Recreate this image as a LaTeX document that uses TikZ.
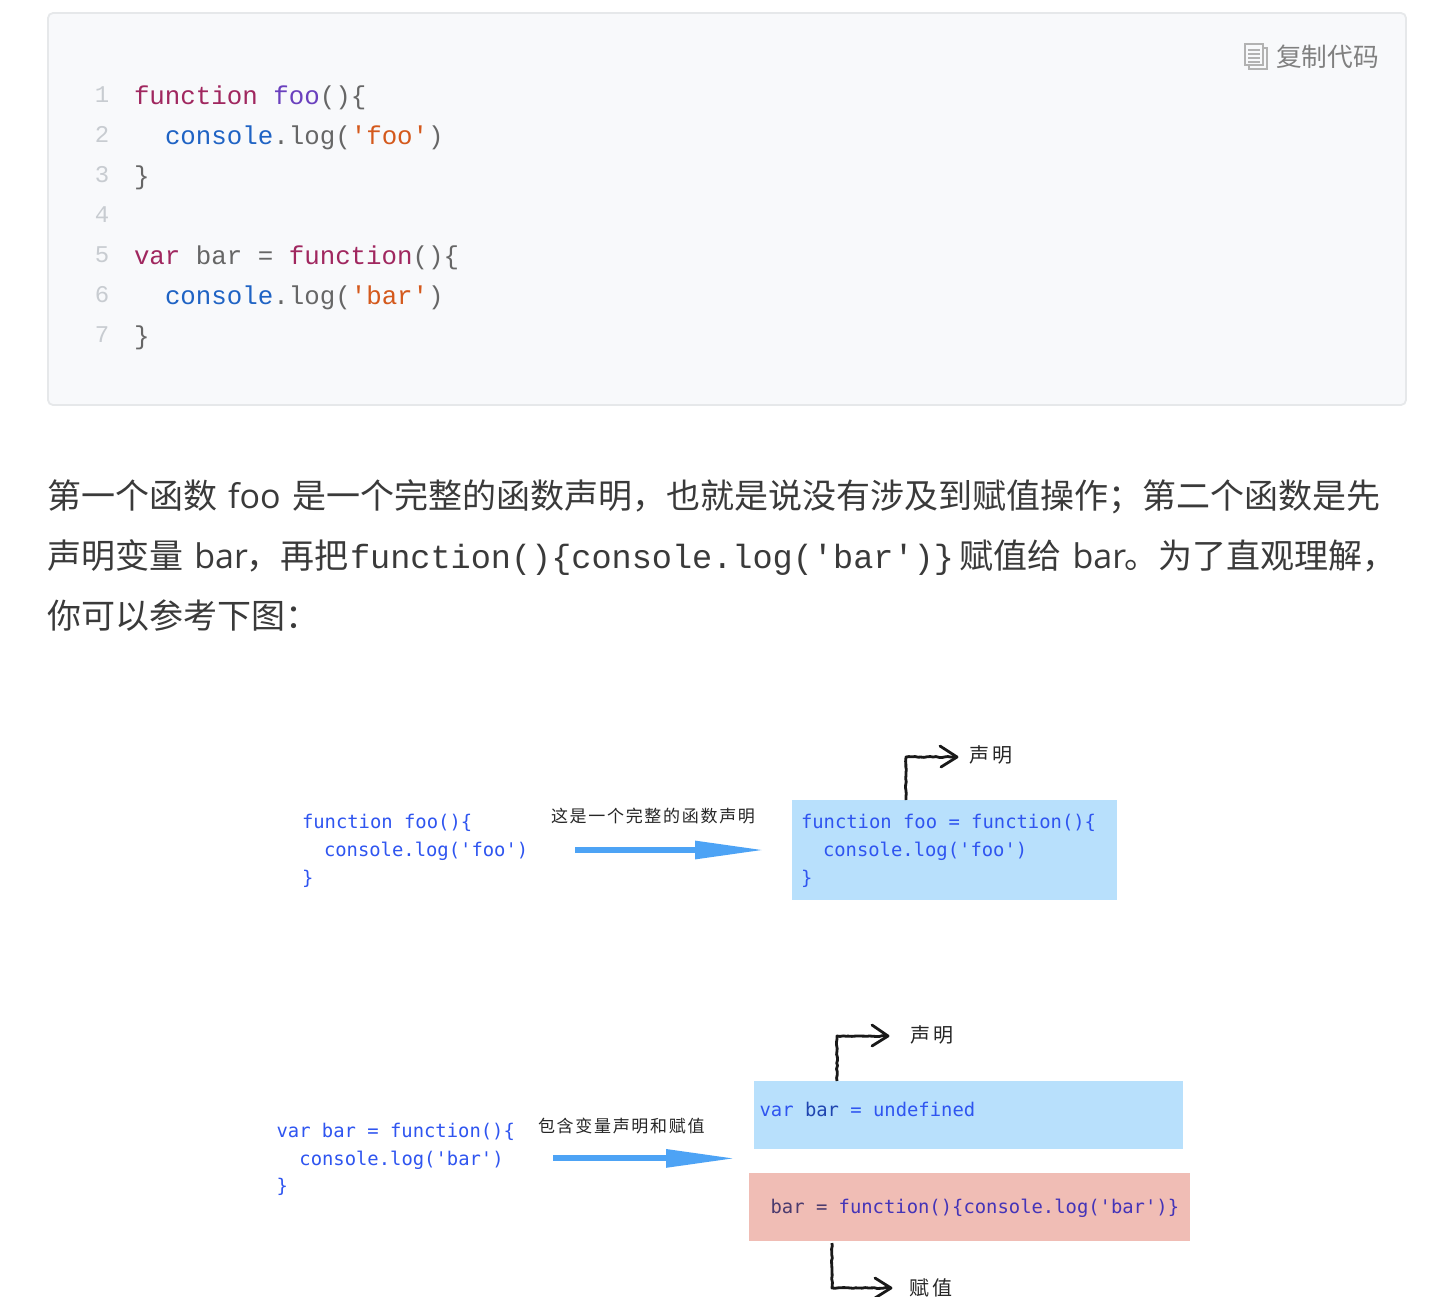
\documentclass[tikz,border=0pt]{standalone}
\usepackage{fontspec}
\usetikzlibrary{arrows.meta,decorations.pathmorphing}
\setmainfont{Open Sans}
\newfontfamily\cjkf{Noto Sans CJK SC}
\newfontfamily\handf[LetterSpace=10]{Noto Sans CJK SC}
\newfontfamily\handw[LetterSpace=15]{Noto Sans CJK SC}
\newfontfamily\topmono{Liberation Mono}
\newfontfamily\dgmono{DejaVu Sans Mono}
\definecolor{kw}{HTML}{A0275F}
\definecolor{fnname}{HTML}{6A40BE}
\definecolor{cons}{HTML}{1F63C4}
\definecolor{strc}{HTML}{D4591C}
\definecolor{punc}{HTML}{666666}
\definecolor{lnum}{HTML}{C8CCD1}
\definecolor{bodyc}{HTML}{3A3A3A}
\definecolor{dgblue}{HTML}{2F55F0}
\definecolor{dgdark}{HTML}{1F45B0}
\definecolor{pinkdark}{HTML}{4A3A6E}
\definecolor{pinktext}{HTML}{4434B8}
\definecolor{boxblue}{HTML}{B8E0FC}
\definecolor{boxpink}{HTML}{F0BDB5}
\definecolor{arrowblue}{HTML}{4DA3F5}
\definecolor{panel}{HTML}{F8F9FB}
\definecolor{panelline}{HTML}{E6E8EA}
\newcommand\tc[2]{\textcolor{#1}{#2}}
\tikzset{
  x=1pt,y=-1pt,
  txt/.style={inner sep=0pt,outer sep=0pt,anchor=base west},
  cjk/.style={txt,text=bodyc,font={\cjkf\fontsize{34}{34}\selectfont}},
  lat/.style={txt,text=bodyc,font={\fontsize{34}{34}\selectfont}},
  inl/.style={txt,text=bodyc,font={\topmono\fontsize{33.55}{33.55}\selectfont}},
  code/.style={txt,text=punc,font={\topmono\fontsize{25.8}{25.8}\selectfont}},
  num/.style={inner sep=0pt,anchor=base,text=lnum,font={\topmono\fontsize{24}{24}\selectfont}},
  dg/.style={txt,text=dgblue,font={\dgmono\fontsize{18.85}{18.85}\selectfont}},
  hand/.style={txt,text=black!85,font={\handf\fontsize{17}{17}\selectfont}},
  handwide/.style={txt,text=black!85,font={\handw\fontsize{20}{20}\selectfont}},
  hbox/.style={inner sep=0pt,outer sep=0pt,anchor=north west,draw=none},
  bluearrow/.style={line width=6pt,draw=arrowblue,-{Triangle[length=70pt,width=17pt]}},
  handline/.style={draw=black!90,line width=2.8pt,line join=round,decorate,
    decoration={random steps,segment length=3pt,amplitude=0.5pt}},
  barb/.style={draw=black!90,line width=2.8pt,line join=round,line cap=round},
}
\begin{document}
\begin{tikzpicture}
\pgfmathsetseed{7}
\useasboundingbox (0,0) rectangle (1432,1296);
\clip (0,0) rectangle (1432,1296);
\fill[white] (0,0) rectangle (1432,1296);
% code block
\draw[fill=panel,draw=panelline,line width=1.8pt,rounded corners=5pt] (48,13) rectangle (1406,405);
% copy icon
\draw[black!30,line width=1.2pt,fill=panel] (1249,48) rectangle (1267,69);
\draw[black!30,line width=1.2pt,fill=panel] (1245,44) rectangle (1263,65);
\foreach \yy in {50,54,58,62} \draw[black!30,line width=1.1pt] (1248,\yy) -- (1260,\yy);
\node[txt,text=black!50,font={\cjkf\fontsize{25.7}{25.7}\selectfont}] (copy) at (1276,66) {复制代码};
% line numbers
\node[num] (n1) at (102,102.5) {1};
\node[num] (n2) at (102,142.5) {2};
\node[num] (n3) at (102,182.5) {3};
\node[num] (n4) at (102,222.5) {4};
\node[num] (n5) at (102,262.5) {5};
\node[num] (n6) at (102,302.5) {6};
\node[num] (n7) at (102,342.5) {7};
% code
\node[code] (c1) at (134,104) {\tc{kw}{function} \tc{fnname}{foo}()\{};
\node[code] (c2) at (165,144) {\tc{cons}{console}.log(\tc{strc}{'foo'})};
\node[code] (c3) at (134,184) {\}};
\node[code] (c5) at (134,264) {\tc{kw}{var} bar = \tc{kw}{function}()\{};
\node[code] (c6) at (165,304) {\tc{cons}{console}.log(\tc{strc}{'bar'})};
\node[code] (c7) at (134,344) {\}};
% paragraph
\node[cjk] (p1a) at (47.4,508.8) {第一个函数};
\node[lat] (p1b) at (228,508.8) {foo};
\node[cjk] (p1c) at (292.4,508.8) {是一个完整的函数声明，也就是说没有涉及到赋值操作；第二个函数是先};
\node[cjk] (p2a) at (47.4,568.6) {声明变量};
\node[lat] (p2b) at (194.4,568.6) {bar};
\node[cjk] (p2c) at (246.4,568.6) {，再把};
\node[inl] (p2d) at (350,568.6) {function()\{console.log('bar')\}};
\node[cjk] (p2e) at (959.6,568.6) {赋值给};
\node[lat] (p2f) at (1072.6,568.6) {bar};
\node[cjk] (p2g) at (1124,568.6) {。为了直观理解，};
\node[cjk] (p3) at (47.4,628.2) {你可以参考下图：};
% diagram 1
\node[dg] (d1a) at (302,828) {function foo()\{};
\node[dg] (d1b) at (324,856.4) {console.log('foo')};
\node[dg] (d1c) at (302,884.2) {\}};
\node[hand] (l1) at (551,822) {这是一个完整的函数声明};
\coordinate (a1s) at (575,850);
\coordinate (a1e) at (765,850);
\draw[bluearrow] (a1s) -- (a1e);
\node[hbox,fill=boxblue,minimum width=325pt,minimum height=100pt] (b1) at (792,800) {};
\node[dg] (b1a) at (801,828) {function foo = function()\{};
\node[dg] (b1b) at (823,856.4) {console.log('foo')};
\node[dg] (b1c) at (801,884.2) {\}};
\coordinate (h1c) at (906,757);
\coordinate (h1t) at (957,757);
\coordinate (h1u) at (940,746);
\coordinate (h1d) at (941,767);
\draw[handline] (h1c |- b1.north) -- (h1c) -- (h1t);
\draw[barb] (h1u) -- (h1t) -- (h1d);
\node[handwide] (l2) at (969,762.5) {声明};
% diagram 2
\node[dg] (d2a) at (276.6,1137) {var bar = function()\{};
\node[dg] (d2b) at (299.4,1165) {console.log('bar')};
\node[dg] (d2c) at (276.6,1192.8) {\}};
\node[hand] (l3) at (538,1132) {包含变量声明和赋值};
\coordinate (a2s) at (553,1158.4);
\coordinate (a2e) at (736,1158.4);
\draw[bluearrow] (a2s) -- (a2e);
\node[hbox,fill=boxblue,minimum width=429pt,minimum height=68pt] (b2) at (754,1081) {};
\node[dg] (b2a) at (759.6,1116) {var \tc{dgdark}{bar} = undefined};
\node[hbox,fill=boxpink,minimum width=441pt,minimum height=68pt] (b3) at (749,1173) {};
\node[dg,text=pinktext] (b3a) at (770.6,1213) {\tc{pinkdark}{bar =} function()\{console.log('bar')\}};
\coordinate (h2c) at (837,1036);
\coordinate (h2t) at (888,1036);
\coordinate (h2u) at (872,1025);
\coordinate (h2d) at (872,1046);
\draw[handline] (h2c |- b2.north) -- (h2c) -- (h2t);
\draw[barb] (h2u) -- (h2t) -- (h2d);
\node[handwide] (l4) at (910,1042.5) {声明};
\coordinate (h3s) at (832,1243);
\coordinate (h3c) at (832,1288);
\coordinate (h3t) at (891,1288);
\coordinate (h3u) at (875,1278);
\coordinate (h3d) at (875,1298);
\draw[handline] (h3s) -- (h3c) -- (h3t);
\draw[barb] (h3u) -- (h3t) -- (h3d);
\node[handwide] (l5) at (909,1295.5) {赋值};
\end{tikzpicture}
\end{document}
